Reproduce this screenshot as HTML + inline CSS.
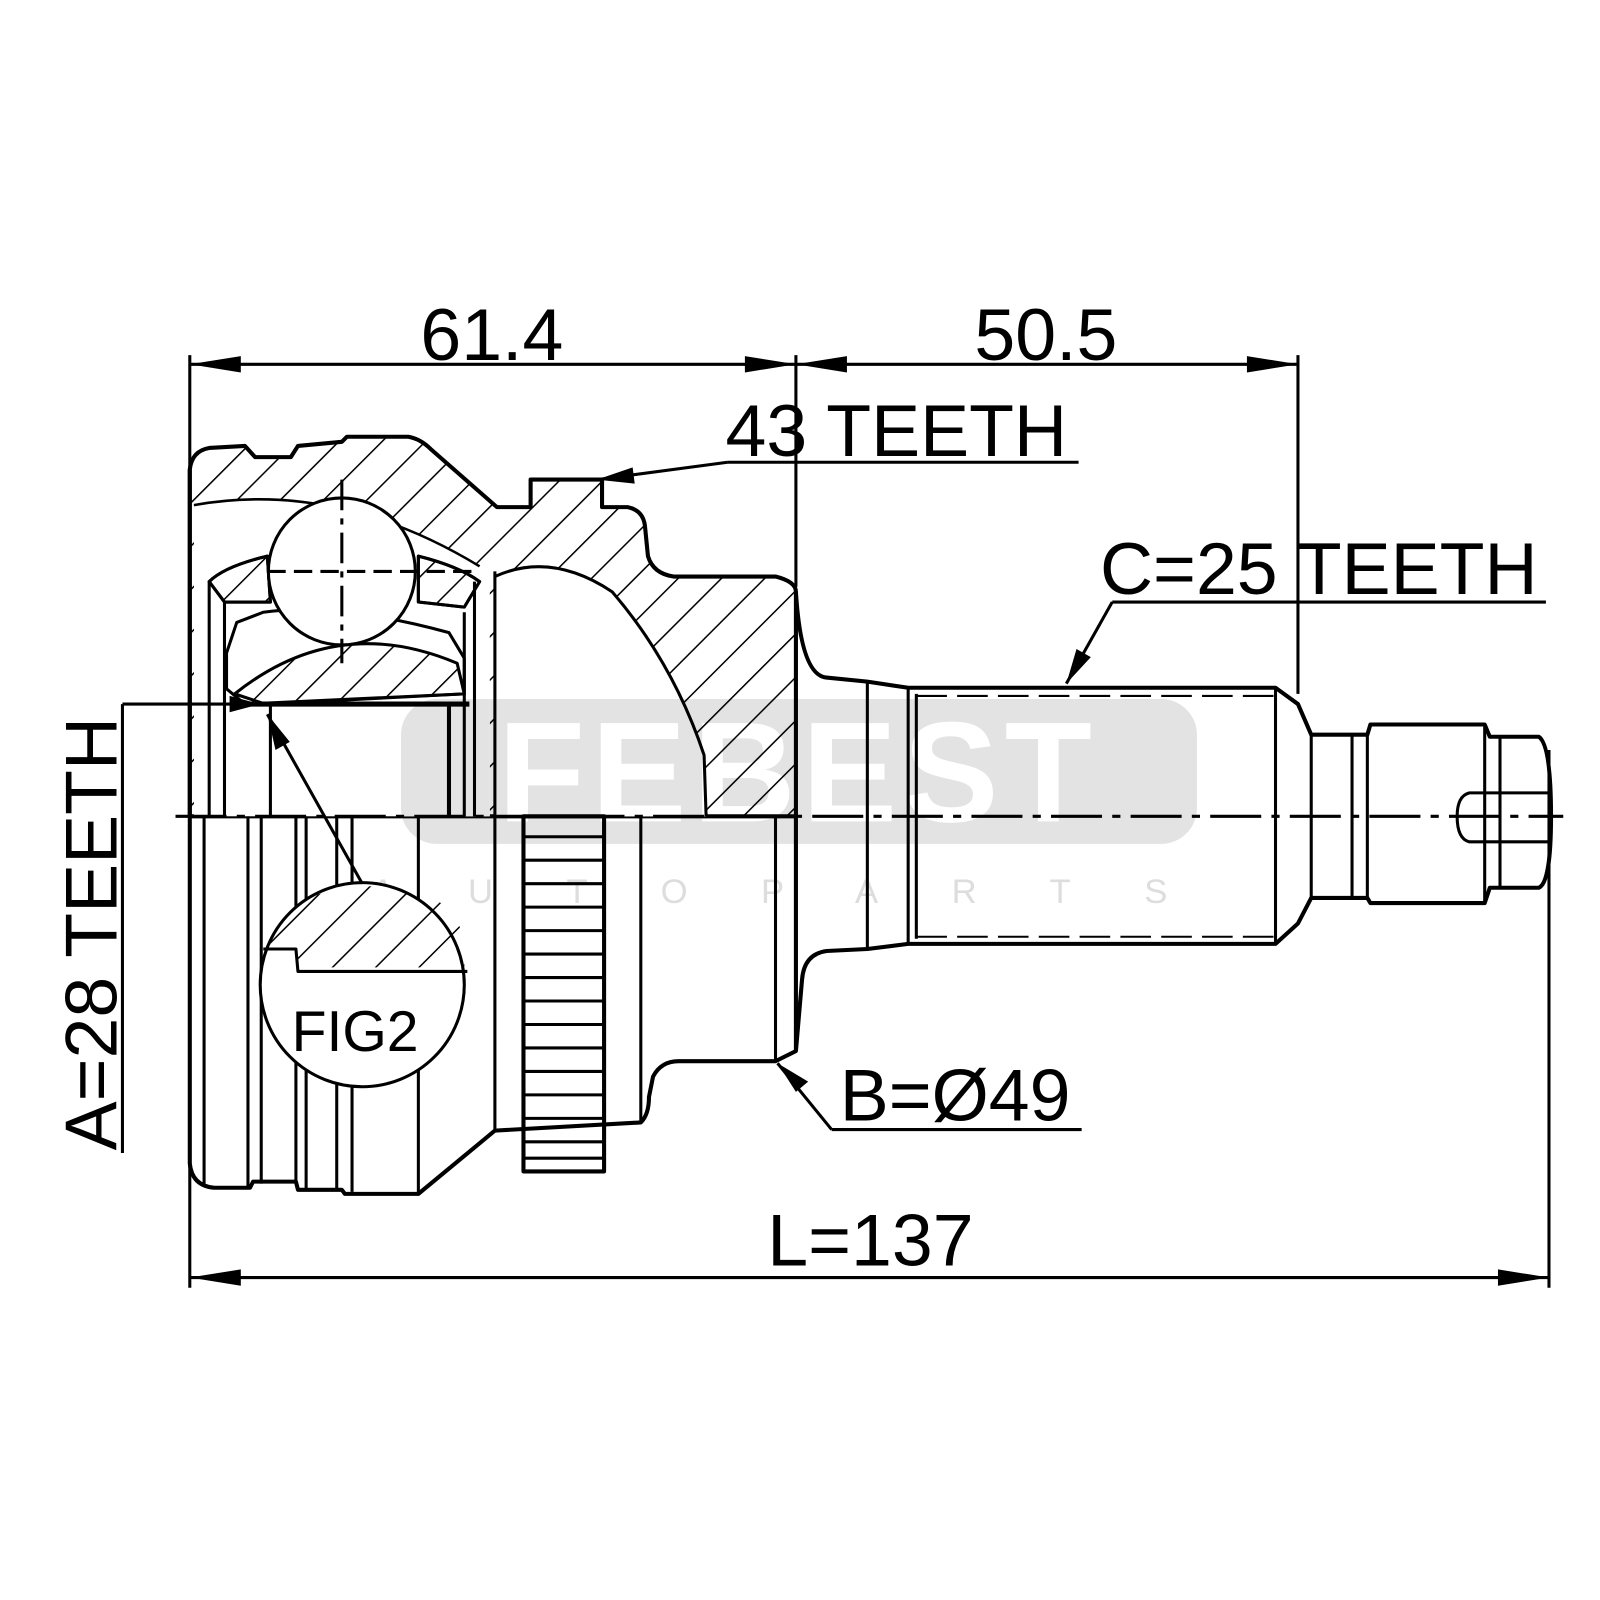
<!DOCTYPE html>
<html><head><meta charset="utf-8"><style>html,body{margin:0;padding:0;background:#fff}svg{display:block}</style></head>
<body>
<svg width="1600" height="1600" viewBox="0 0 1568 1568" xmlns="http://www.w3.org/2000/svg" font-family="Liberation Sans, sans-serif">
<defs>
<pattern id="h" patternUnits="userSpaceOnUse" width="30" height="30" patternTransform="rotate(45)">
<line x1="0" y1="0" x2="0" y2="30" stroke="#000" stroke-width="3"/>
</pattern>
<clipPath id="cavc">
<path d="M190,495 Q330,470 470,555 L480,560 L480,800 L190,800 Z"/>
<path d="M485,565 Q540,540 600,580 Q660,650 690,740 L692,800 L485,800 Z"/>
</clipPath>
<g id="wm">
<rect x="393" y="685" width="780" height="142" rx="35" fill="#e3e3e3"/>
<text x="782" y="805" font-size="140" font-weight="bold" fill="#fff" text-anchor="middle" letter-spacing="6">FEBEST</text>
</g>
</defs>
<!-- watermark -->
<use href="#wm"/>
<text x="790" y="885" font-size="34" fill="#ddd" text-anchor="middle" letter-spacing="72">AUTOPARTS</text>

<g fill="none" stroke="#000" stroke-width="4" stroke-linejoin="round">
<!-- upper hatched body -->
<path d="M186,460 Q188,442 205,439 L240,437 L250,448 L285,448 L292,437 L335,433 L340,428 L400,428 Q412,430 422,440 L487,497 L520,497 L520,470 L590,470 L590,497 L615,497 Q630,500 632,515 L635,545 Q640,562 660,565 L760,565 Q780,570 780,580 L780,800 L186,800 Z" fill="url(#h)"/>
<!-- white cavities with watermark showing through -->
<g clip-path="url(#cavc)" stroke="none">
<rect x="186" y="430" width="600" height="380" fill="#fff"/>
<use href="#wm"/>
</g>
<path d="M190,495 Q330,470 470,555" stroke-width="2.5"/>
<path d="M485,565 Q540,540 600,580 Q660,650 690,740 L692,800" stroke-width="3"/>
<!-- cage pieces -->
<path d="M205,570 Q220,555 262,545 L265,590 L220,590 Z" fill="#fff" stroke-width="3"/>
<path d="M205,570 Q220,555 262,545 L265,590 L220,590 Z" fill="url(#h)" stroke-width="3"/>
<path d="M410,545 Q450,555 470,570 L455,595 L410,590 Z" fill="#fff" stroke-width="3"/>
<path d="M410,545 Q450,555 470,570 L455,595 L410,590 Z" fill="url(#h)" stroke-width="3"/>
<!-- inner race -->
<path d="M222,640 L232,610 L258,600 Q330,590 440,620 L455,645 L455,680 L240,690 L222,675 Z" fill="#fff" stroke-width="3"/>
<path d="M230,680 Q330,600 448,650 L455,680 L260,690 Z" fill="url(#h)" stroke-width="3"/>
<line x1="240" y1="690" x2="460" y2="690" stroke-width="5"/>
<!-- ball -->
<circle cx="335" cy="560" r="72" fill="#fff" stroke-width="3"/>
<line x1="335" y1="470" x2="335" y2="650" stroke-width="3" stroke-dasharray="30,8,6,8"/>
<line x1="262" y1="560" x2="470" y2="560" stroke-width="3" stroke-dasharray="18,8"/>
<!-- inner vertical lines upper -->
<line x1="205" y1="570" x2="205" y2="800" stroke-width="3"/>
<line x1="220" y1="590" x2="220" y2="800" stroke-width="3"/>
<line x1="265" y1="690" x2="265" y2="800" stroke-width="3"/>
<line x1="440" y1="690" x2="440" y2="800" stroke-width="4"/>
<line x1="455" y1="600" x2="455" y2="800" stroke-width="3"/>
<line x1="465" y1="570" x2="465" y2="800" stroke-width="3"/>

<!-- lower body outline -->
<path d="M186,460 L186,1140 Q188,1162 210,1164 L245,1164 L248,1158 L290,1158 L292,1166 L335,1166 L338,1170 L410,1170 L485,1108 L628,1100 Q636,1092 636,1075 L640,1055 Q648,1040 665,1040 L760,1040 L780,1030 L780,800"/>
<line x1="200" y1="800" x2="200" y2="1160" stroke-width="3"/>
<line x1="243" y1="800" x2="243" y2="1164" stroke-width="3"/>
<line x1="256" y1="800" x2="256" y2="1160" stroke-width="3"/>
<line x1="290" y1="800" x2="290" y2="1160" stroke-width="3"/>
<line x1="300" y1="800" x2="300" y2="1166" stroke-width="3"/>
<line x1="330" y1="800" x2="330" y2="1166" stroke-width="3"/>
<line x1="345" y1="800" x2="345" y2="1168" stroke-width="3"/>
<line x1="410" y1="800" x2="410" y2="1170" stroke-width="3"/>
<line x1="485" y1="560" x2="485" y2="1108" stroke-width="3"/>
<line x1="628" y1="800" x2="628" y2="1100" stroke-width="3"/>
<line x1="760" y1="800" x2="760" y2="1040" stroke-width="3"/>
<!-- ABS ring -->
<rect x="513" y="800" width="79" height="348" stroke-width="4"/>
<g stroke-width="3">
<line x1="513" y1="820" x2="592" y2="820"/><line x1="513" y1="843" x2="592" y2="843"/><line x1="513" y1="866" x2="592" y2="866"/>
<line x1="513" y1="889" x2="592" y2="889"/><line x1="513" y1="912" x2="592" y2="912"/><line x1="513" y1="935" x2="592" y2="935"/>
<line x1="513" y1="958" x2="592" y2="958"/><line x1="513" y1="981" x2="592" y2="981"/><line x1="513" y1="1004" x2="592" y2="1004"/>
<line x1="513" y1="1027" x2="592" y2="1027"/><line x1="513" y1="1050" x2="592" y2="1050"/><line x1="513" y1="1073" x2="592" y2="1073"/>
<line x1="513" y1="1096" x2="592" y2="1096"/><line x1="513" y1="1119" x2="592" y2="1119"/><line x1="513" y1="1135" x2="592" y2="1135"/>
</g>

<!-- shaft -->
<path d="M780,580 Q785,662 810,664 L850,668 L890,674 L1250,674 L1272,690 L1285,720 L1340,720 L1343,710 L1455,710 L1460,722 L1508,722 Q1520,730 1520,800 Q1520,865 1508,870 L1460,870 L1455,885 L1343,885 L1340,880 L1285,880 L1272,905 L1250,925 L890,925 L850,930 L810,932 Q788,935 786,960 L780,1030"/>
<line x1="850" y1="668" x2="850" y2="930" stroke-width="3"/>
<line x1="890" y1="674" x2="890" y2="925" stroke-width="3"/>
<line x1="898" y1="680" x2="898" y2="920" stroke-width="3"/>
<line x1="1250" y1="674" x2="1250" y2="925" stroke-width="3"/>
<line x1="1285" y1="720" x2="1285" y2="880" stroke-width="3"/>
<line x1="1325" y1="720" x2="1325" y2="880" stroke-width="3"/>
<line x1="1340" y1="720" x2="1340" y2="880" stroke-width="3"/>
<line x1="1455" y1="710" x2="1455" y2="885" stroke-width="3"/>
<line x1="1470" y1="722" x2="1470" y2="870" stroke-width="3"/>
<line x1="898" y1="682" x2="1250" y2="682" stroke-width="2" stroke-dasharray="30,10"/>
<line x1="898" y1="918" x2="1250" y2="918" stroke-width="2" stroke-dasharray="30,10"/>
<path d="M1520,777 L1440,777 Q1428,780 1428,800 Q1428,822 1440,825 L1520,825" stroke-width="3"/>

<!-- FIG2 -->
<circle cx="355" cy="965" r="100" fill="#fff" stroke-width="3"/>
<path d="M262,930 L290,926 L292,948 L455,948 Q460,880 400,875 Q360,860 300,880 Q268,900 262,930 Z" fill="url(#h)" stroke="none"/>
<path d="M258,930 L290,930 L292,952 L458,952" stroke-width="3"/>
</g>
<text x="348" y="1030" font-size="56" text-anchor="middle">FIG2</text>

<!-- centerline -->
<line x1="172" y1="800" x2="1532" y2="800" stroke="#000" stroke-width="3" stroke-dasharray="50,10,8,10"/>

<!-- dimensions -->
<g stroke="#000" stroke-width="3" fill="none">
<line x1="186" y1="348" x2="186" y2="1262"/>
<line x1="780" y1="348" x2="780" y2="575"/>
<line x1="1272" y1="348" x2="1272" y2="680"/>
<line x1="1518" y1="735" x2="1518" y2="1262"/>
<line x1="186" y1="357" x2="1272" y2="357"/>
<line x1="186" y1="1252" x2="1518" y2="1252"/>
<line x1="713" y1="453" x2="1057" y2="453"/>
<line x1="713" y1="453" x2="585" y2="470"/>
<line x1="1090" y1="590" x2="1515" y2="590"/>
<line x1="1090" y1="590" x2="1045" y2="670"/>
<line x1="815" y1="1107" x2="1060" y2="1107"/>
<line x1="815" y1="1107" x2="762" y2="1042"/>
<line x1="120" y1="690" x2="120" y2="1130"/>
<line x1="120" y1="690" x2="255" y2="690"/>
<line x1="355" y1="866" x2="262" y2="700"/>
</g>
<g fill="#000">
<polygon points="186,357 236,349 236,365"/><polygon points="780,357 730,349 730,365"/>
<polygon points="780,357 830,349 830,365"/><polygon points="1272,357 1222,349 1222,365"/>
<polygon points="186,1252 236,1244 236,1260"/><polygon points="1518,1252 1468,1244 1468,1260"/>
<polygon points="585,470 620,458 622,474"/>
<polygon points="1045,670 1055,636 1069,644"/>
<polygon points="762,1042 780,1070 792,1060"/>
<polygon points="255,690 225,682 225,698"/>
<polygon points="262,700 270,735 284,727"/>
</g>
<g font-size="72" fill="#000">
<text x="482" y="353" text-anchor="middle">61.4</text>
<text x="1025" y="353" text-anchor="middle">50.5</text>
<text x="711" y="447">43 TEETH</text>
<text x="1078" y="582">C=25 TEETH</text>
<text x="823" y="1098">B=Ø49</text>
<text x="853" y="1240" text-anchor="middle">L=137</text>
<text transform="translate(114,915) rotate(-90)" text-anchor="middle">A=28 TEETH</text>
</g>
</svg>
</body></html>
